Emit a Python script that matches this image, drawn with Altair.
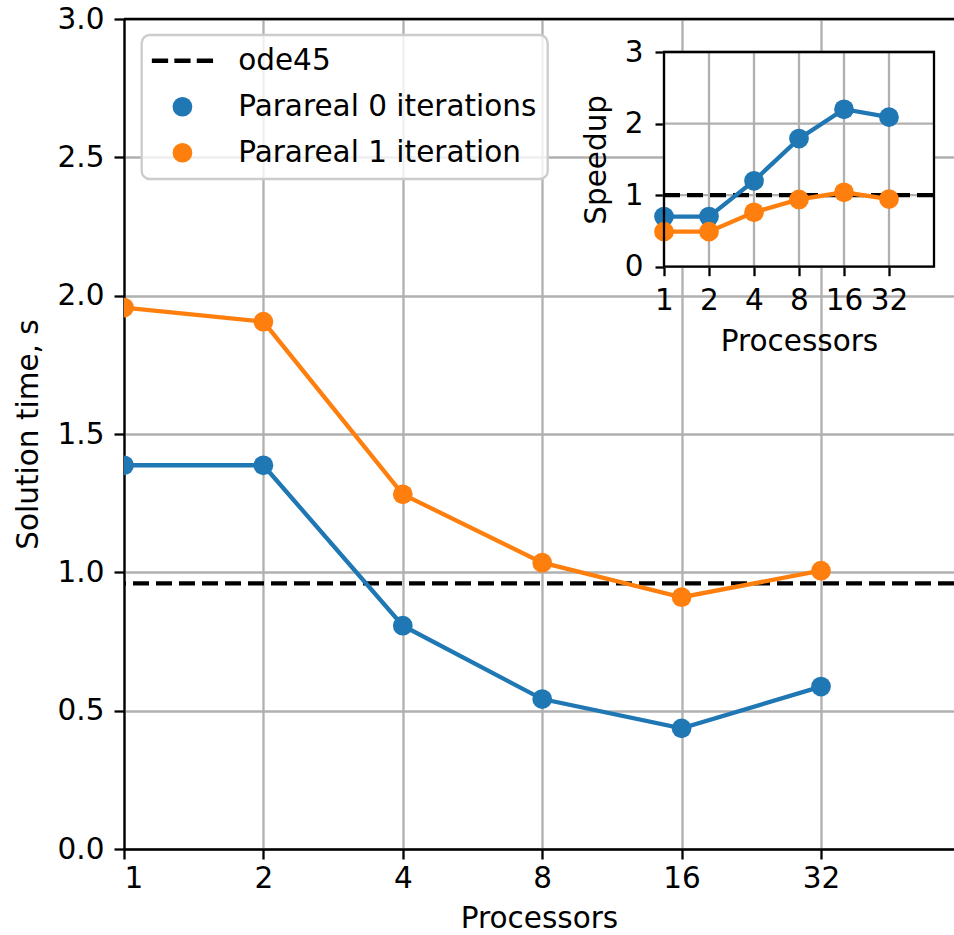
import json
import altair as alt
import pandas as pd

# ---------------- data ----------------
proc_labels = ["1", "2", "4", "8", "16", "32"]
proc_idx = [0, 1, 2, 3, 4, 5]

series_names = ["ode45", "Parareal 0 iterations", "Parareal 1 iteration"]
series_colors = ["#000000", "#1f77b4", "#ff7f0e"]

time_p0 = [1.387, 1.387, 0.807, 0.542, 0.436, 0.587]
time_p1 = [1.957, 1.906, 1.282, 1.035, 0.910, 1.006]
time_ode45 = [0.960]

speedup_p0 = [0.70, 0.70, 1.20, 1.79, 2.20, 2.09]
speedup_p1 = [0.49, 0.49, 0.76, 0.94, 1.04, 0.945]
speedup_ref = [1.0]

main_x_domain = [0, 5.954]
main_y_domain = [0, 3.0]
main_y_ticks = [0.0, 0.5, 1.0, 1.5, 2.0, 2.5, 3.0]

inset_x_domain = [0, 6.0]
inset_y_domain = [0, 3.0]
inset_y_ticks = [0, 1, 2, 3]

# ---------------- geometry / style ----------------
W, H = 830, 830
FONT = "DejaVu Sans"
FS = 29.5
GRID = "#b0b0b0"
LW = 4.3
AXW = 2.3
MSIZE = 390
INSET_X_RANGE = [540, 810]
INSET_Y_RANGE = [247.7, 33]

label_expr = json.dumps(proc_labels) + "[datum.value]"

# dashed line symbol for the legend (three filled dashes, unit = circle radius)
dash_path = ("M-3.1,-0.22H-1.45V0.22H-3.1Z"
             "M-0.82,-0.22H0.82V0.22H-0.82Z"
             "M1.45,-0.22H3.1V0.22H1.45Z")

# ---------------- tables ----------------
main_df = pd.DataFrame({
    "idx": proc_idx * 2,
    "time": time_p0 + time_p1,
    "series": [series_names[1]] * 6 + [series_names[2]] * 6,
})
ode_df = pd.DataFrame({"time": time_ode45})
top_df = pd.DataFrame({"time": [main_y_domain[1]]})

inset_df = pd.DataFrame({
    "idx": proc_idx * 2,
    "speedup": speedup_p0 + speedup_p1,
    "series": [series_names[1]] * 6 + [series_names[2]] * 6,
})
frame_df = pd.DataFrame({"x0": [inset_x_domain[0]], "x1": [inset_x_domain[1]],
                         "y0": [inset_y_domain[0]], "y1": [inset_y_domain[1]]})
vgrid_df = pd.DataFrame({"x0": proc_idx, "y0": inset_y_domain[0], "y1": inset_y_domain[1]})
hgrid_df = pd.DataFrame({"y0": inset_y_ticks, "x0": inset_x_domain[0], "x1": inset_x_domain[1]})
iref_df = pd.DataFrame({"y0": speedup_ref, "x0": inset_x_domain[0], "x1": inset_x_domain[1]})

# ---------------- scales & axes ----------------
xs_main = alt.Scale(domain=main_x_domain, nice=False, zero=False)
ys_main = alt.Scale(domain=main_y_domain, nice=False)
xs_in = alt.Scale(domain=inset_x_domain, range=INSET_X_RANGE, nice=False, zero=False)
ys_in = alt.Scale(domain=inset_y_domain, range=INSET_Y_RANGE, nice=False)

color_scale = alt.Scale(domain=series_names, range=series_colors)
shape_scale = alt.Scale(domain=series_names, range=[dash_path, "circle", "circle"])

common = dict(labelFontSize=FS, titleFontSize=FS, labelColor="black", titleColor="black",
              titleFontWeight="normal", labelFont=FONT, titleFont=FONT,
              tickWidth=AXW, tickColor="black")

ax_main_x = alt.Axis(values=proc_idx, labelExpr=label_expr, title="Processors",
                     grid=True, gridColor=GRID, gridWidth=AXW, gridOpacity=1,
                     tickSize=10, domainColor="black", domainWidth=AXW,
                     labelPadding=5, titlePadding=12, orient="bottom", **common)
ax_main_y = alt.Axis(values=main_y_ticks, format=".1f", title="Solution time, s",
                     grid=True, gridColor=GRID, gridWidth=AXW, gridOpacity=1,
                     tickSize=10, domainColor="black", domainWidth=AXW,
                     labelPadding=10, titlePadding=14, orient="left", **common)
ax_in_x = alt.Axis(values=proc_idx, labelExpr=label_expr, title="Processors",
                   grid=False, domain=False, orient="bottom", offset=-(H - INSET_Y_RANGE[0]),
                   tickSize=9, labelPadding=11, titlePadding=12,
                   labelFlush=False, labelOverlap=False, **common)
ax_in_y = alt.Axis(values=inset_y_ticks, format="d", title="Speedup",
                   grid=False, domain=False, orient="left", offset=-INSET_X_RANGE[0],
                   tickSize=9, labelPadding=12, titlePadding=13,
                   labelFlush=False, labelOverlap=False, **common)

# ---------------- main layers ----------------
mx = alt.X("idx:Q", scale=xs_main, axis=ax_main_x)
my = alt.Y("time:Q", scale=ys_main, axis=ax_main_y)

ode_rule = alt.Chart(ode_df).mark_rule(strokeDash=[16, 7], strokeWidth=LW, color=series_colors[0]).encode(y=my)
top_rule = alt.Chart(top_df).mark_rule(strokeWidth=AXW, color="black").encode(y=my)

main_lines = [
    alt.Chart(main_df).transform_filter(alt.datum.series == name)
    .mark_line(strokeWidth=LW, clip=True, color=col).encode(x=mx, y=my)
    for name, col in zip(series_names[1:], series_colors[1:])
]
main_points = alt.Chart(main_df).mark_point(filled=True, opacity=1, size=MSIZE, clip=True).encode(
    x=mx, y=my,
    color=alt.Color("series:N", scale=color_scale, title=None),
    shape=alt.Shape("series:N", scale=shape_scale, title=None),
)
main = alt.layer(ode_rule, *main_lines, main_points, top_rule)

# ---------------- inset layers ----------------
ix = lambda f: alt.X(f, scale=xs_in, axis=ax_in_x)
iy = lambda f: alt.Y(f, scale=ys_in, axis=ax_in_y)

bg = alt.Chart(frame_df).mark_rect(fill="white", strokeWidth=0).encode(
    x=ix("x0:Q"), x2="x1:Q", y=iy("y0:Q"), y2="y1:Q")
vgrid = alt.Chart(vgrid_df).mark_rule(color=GRID, strokeWidth=AXW).encode(
    x=ix("x0:Q"), y=iy("y0:Q"), y2="y1:Q")
hgrid = alt.Chart(hgrid_df).mark_rule(color=GRID, strokeWidth=AXW).encode(
    y=iy("y0:Q"), x=ix("x0:Q"), x2="x1:Q")
iref = alt.Chart(iref_df).mark_rule(color="black", strokeWidth=LW, strokeDash=[16, 7]).encode(
    y=iy("y0:Q"), x=ix("x0:Q"), x2="x1:Q")
ilayers = []
for name, col in zip(series_names[1:], series_colors[1:]):
    base = alt.Chart(inset_df).transform_filter(alt.datum.series == name)
    ilayers.append(base.mark_line(strokeWidth=LW, color=col).encode(x=ix("idx:Q"), y=iy("speedup:Q")))
    ilayers.append(base.mark_point(filled=True, opacity=1, size=MSIZE, color=col)
                   .encode(x=ix("idx:Q"), y=iy("speedup:Q")))
frame = alt.Chart(frame_df).mark_rect(fill=None, fillOpacity=0, stroke="black", strokeWidth=AXW).encode(
    x=ix("x0:Q"), x2="x1:Q", y=iy("y0:Q"), y2="y1:Q")
inset = alt.layer(bg, vgrid, hgrid, iref, *ilayers, frame)

chart = alt.layer(main, inset).resolve_scale(x="independent", y="independent").properties(
    width=W, height=H,
    autosize=alt.AutoSizeParams(type="none"),
    padding={"left": 124, "top": 19, "right": 0, "bottom": 86},
).configure_view(stroke=None).configure(font=FONT).configure_legend(
    orient="none", legendX=17.7, legendY=16, padding=11,
    fillColor="rgba(255,255,255,0.8)", strokeColor="#cccccc", strokeWidth=AXW, cornerRadius=8,
    labelFont=FONT, labelFontSize=FS, labelColor="black", labelLimit=0,
    symbolOffset=15, labelOffset=41, rowPadding=15, symbolSize=MSIZE,
    symbolOpacity=1, symbolStrokeWidth=0,
)

chart.save("out.html", embed_options={"renderer": "svg", "actions": False})
